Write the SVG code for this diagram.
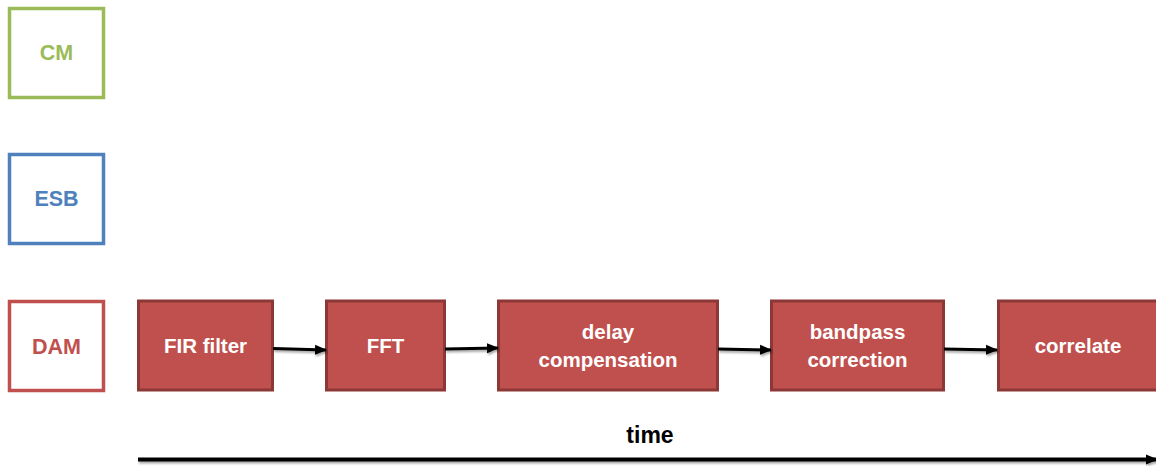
<svg xmlns="http://www.w3.org/2000/svg" width="1156" height="466" viewBox="0 0 1156 466">
  <style>
    .lane { fill: #ffffff; stroke-width: 3.5; }
    .lane-text { font-family: "Liberation Sans", Arial, sans-serif; font-weight: bold; font-size: 21.5px; text-anchor: middle; }
    .step { fill: #C0504D; stroke: #8C3836; stroke-width: 3; }
    .step-text { font-family: "Liberation Sans", Arial, sans-serif; font-weight: bold; font-size: 20.5px; fill: #ffffff; text-anchor: middle; }
    .flow { stroke: #000000; stroke-width: 3; fill: none; marker-end: url(#arrow); filter: url(#shadow); }
    .axis { stroke-width: 4; }
    .label { font-family: "Liberation Sans", Arial, sans-serif; font-weight: bold; font-size: 23px; fill: #000000; text-anchor: middle; }
  </style>
  <defs>
    <marker id="arrow" viewBox="0 0 12 12" refX="11" refY="6" markerWidth="12" markerHeight="12" orient="auto" markerUnits="userSpaceOnUse">
      <path d="M0,1 L12,6 L0,11 z" fill="#000000"/>
    </marker>
    <filter id="shadow" filterUnits="userSpaceOnUse" x="0" y="0" width="1156" height="466">
      <feGaussianBlur in="SourceAlpha" stdDeviation="1.2"/>
      <feOffset dx="1" dy="2" result="b"/>
      <feComponentTransfer><feFuncA type="linear" slope="0.35"/></feComponentTransfer>
      <feMerge><feMergeNode/><feMergeNode in="SourceGraphic"/></feMerge>
    </filter>
  </defs>
  <rect width="1156" height="466" fill="#ffffff"/>

  <!-- swim-lane labels -->
  <g id="lane-cm">
    <rect class="lane" x="9.5" y="8.5" width="94" height="89" stroke="#9BBB59"/>
    <text class="lane-text" x="56.5" y="60" fill="#9BBB59">CM</text>
  </g>
  <g id="lane-esb">
    <rect class="lane" x="9.5" y="154.5" width="94" height="89" stroke="#4F81BD"/>
    <text class="lane-text" x="56.5" y="206" fill="#4F81BD">ESB</text>
  </g>
  <g id="lane-dam">
    <rect class="lane" x="9.5" y="301.5" width="94" height="89" stroke="#C0504D"/>
    <text class="lane-text" x="56.5" y="354" fill="#C0504D">DAM</text>
  </g>

  <!-- processing steps -->
  <g id="step-fir">
    <rect class="step" x="138.5" y="301" width="134" height="89"/>
    <text class="step-text" x="205.5" y="353">FIR filter</text>
  </g>
  <g id="step-fft">
    <rect class="step" x="326.5" y="301" width="118" height="89"/>
    <text class="step-text" x="385.5" y="353">FFT</text>
  </g>
  <g id="step-delay">
    <rect class="step" x="498.5" y="301" width="219" height="89"/>
    <text class="step-text" x="608" y="339">delay</text>
    <text class="step-text" x="608" y="367">compensation</text>
  </g>
  <g id="step-bandpass">
    <rect class="step" x="771.5" y="301" width="172" height="89"/>
    <text class="step-text" x="857.5" y="339">bandpass</text>
    <text class="step-text" x="857.5" y="367">correction</text>
  </g>
  <g id="step-correlate">
    <rect class="step" x="998.5" y="301" width="170" height="89"/>
    <text class="step-text" x="1078" y="353">correlate</text>
  </g>

  <!-- connectors -->
  <g id="connectors">
    <line class="flow" x1="273" y1="348.5" x2="326" y2="350"/>
    <line class="flow" x1="445" y1="349" x2="498" y2="348"/>
    <line class="flow" x1="718" y1="349" x2="771" y2="350"/>
    <line class="flow" x1="944" y1="349" x2="997" y2="350"/>
    <line class="flow axis" x1="138" y1="459.5" x2="1157" y2="459.5"/>
  </g>

  <text class="label" x="650" y="443">time</text>
</svg>
